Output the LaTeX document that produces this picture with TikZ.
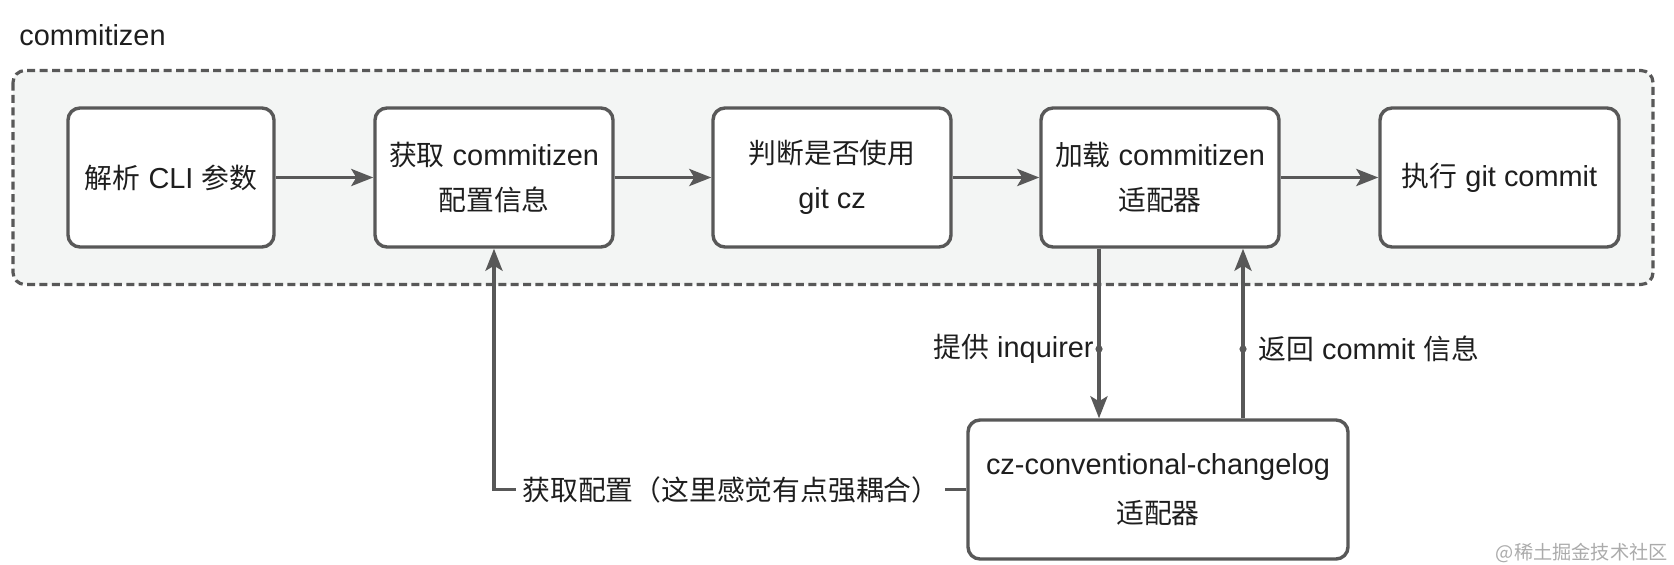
\documentclass[tikz,border=0pt]{standalone}
\usepackage{fontspec}
\setmainfont[Scale=1.04]{Liberation Sans}
\newfontfamily\cjk{Noto Sans CJK SC}
\usetikzlibrary{arrows.meta}
\definecolor{linec}{HTML}{585858}
\definecolor{bgc}{HTML}{F3F5F4}
\definecolor{txt}{HTML}{1E1E1E}
\definecolor{wmc}{HTML}{ABABAB}
\begin{document}
\begin{tikzpicture}[x=0.5pt,y=-0.5pt,
  every node/.style={text=txt, font=\fontsize{13.9}{22.5}\selectfont},
  stepbox/.style={draw=linec, line width=1.7pt, fill=white, rounded corners=6pt,
    align=center, inner sep=0pt, minimum height=69.5pt},
  arr/.style={draw=linec, line width=1.8pt, -{Stealth[length=11pt,width=8.5pt,inset=2.5pt]}},
  dotmark/.style={circle, fill=linec, inner sep=0pt, minimum size=3.6pt},
  lbl/.style={inner sep=0pt},
  container/.style={draw=linec, line width=1.6pt, fill=bgc, rounded corners=6pt,
    dash pattern=on 4pt off 2.2pt}]
\useasboundingbox (0,0) rectangle (1674,564);
% container
\draw[container] (13,70.5) rectangle (1653,284.5);
\node[lbl, anchor=base west] (title) at (19,45) {commitizen};
% boxes
\node[stepbox, minimum width=103pt] (b1) at (171,177.5) {{\cjk 解析} CLI {\cjk 参数}};
\node[stepbox, minimum width=119pt] (b2) at (494,177.5) {{\cjk 获取} commitizen\\{\cjk 配置信息}};
\node[stepbox, minimum width=119pt] (b3) at (832,177.5) {{\cjk 判断是否使用}\\git cz};
\node[stepbox, minimum width=119pt] (b4) at (1160,177.5) {{\cjk 加载} commitizen\\{\cjk 适配器}};
\node[stepbox, minimum width=119.5pt] (b5) at (1499.5,177.5) {{\cjk 执行} git commit};
\node[stepbox, minimum width=190pt, font=\fontsize{13.9}{24.5}\selectfont] (b6) at (1158,489.5) {cz-conventional-changelog\\{\cjk 适配器}};
% horizontal flow
\draw[arr] (b1) -- (b2);
\draw[arr] (b2) -- (b3);
\draw[arr] (b3) -- (b4);
\draw[arr] (b4) -- (b5);
% vertical connectors
\coordinate (xd) at (1099,0);
\coordinate (xu) at (1243,0);
\draw[arr] (b4.south -| xd) -- (b6.north -| xd);
\draw[arr] (b6.north -| xu) -- (b4.south -| xu);
\node[dotmark] (d1) at (1099,349) {};
\node[dotmark] (d2) at (1243,349) {};
\node[lbl, anchor=east] (l1) at (1094,349) {{\cjk 提供} inquirer};
\node[lbl, anchor=west] (l2) at (1258,349) {{\cjk 返回} commit {\cjk 信息}};
% feedback connector
\draw[arr] (b6.west) -| (b2.south);
\node[lbl, anchor=west, fill=white, inner xsep=3pt, inner ysep=2pt] (l3) at (516,490) {\cjk 获取配置（这里感觉有点强耦合）};
% watermark
\node[lbl, anchor=east, text=wmc, font=\fontsize{9.6}{12}\selectfont] (wm) at (1668,553) {\cjk @稀土掘金技术社区};
\end{tikzpicture}
\end{document}
